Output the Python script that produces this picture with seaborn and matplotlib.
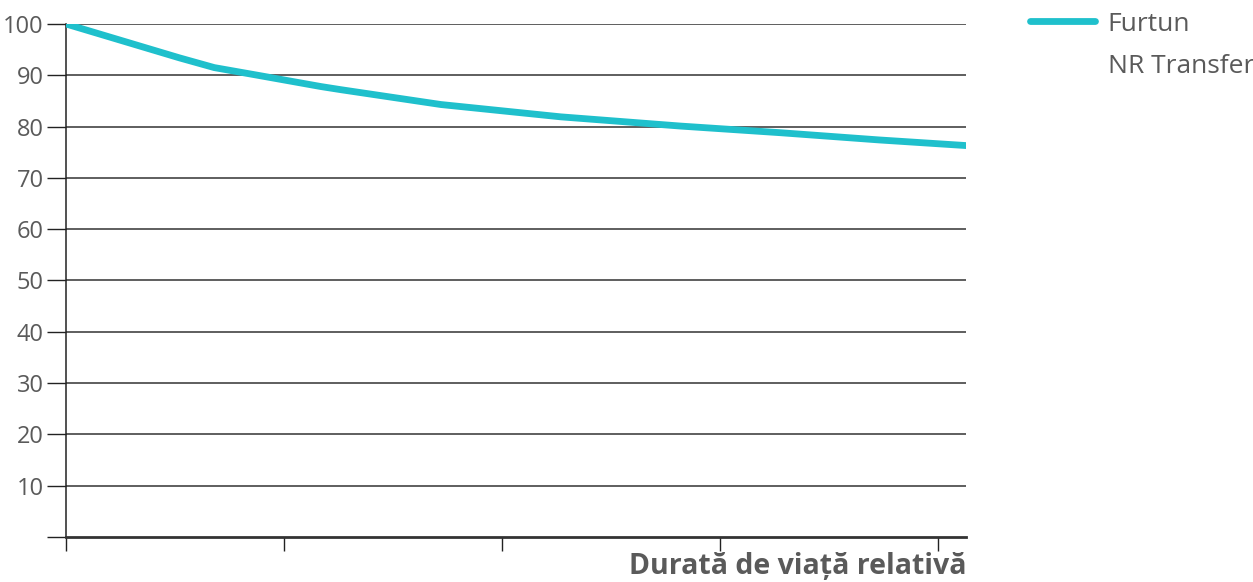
import pandas as pd
import numpy as np
import matplotlib
matplotlib.use("Agg")
import matplotlib.pyplot as plt
import seaborn as sns
from matplotlib.lines import Line2D

# values
rel_life = [0.0, 0.52, 0.68, 0.88, 1.17, 1.26, 1.72, 2.27, 2.82, 3.28, 3.73, 4.13]
furtun = [100.0, 93.4, 91.5, 90.0, 87.8, 87.2, 84.3, 81.9, 80.1, 78.8, 77.4, 76.3]
y_ticks = [0, 10, 20, 30, 40, 50, 60, 70, 80, 90, 100]
y_labels = [""] + [str(v) for v in y_ticks[1:]]
x_ticks = [0, 1, 2, 3, 4]
legend_labels = ["Furtun", "NR Transfer"]
x_label = "Durată de viață relativă"

df = pd.DataFrame({"x": rel_life, "y": furtun})

sns.set_style("white")
plt.rcParams["font.family"] = ["Open Sans", "DejaVu Sans"]

TEXT = "#5a5a5a"
LINE = "#1fc0cc"

fig = plt.figure(figsize=(12.53, 5.82), dpi=100)
ax = fig.add_axes([0.0527, 0.0773, 0.7183, 0.8815])

for v in y_ticks[1:]:
	ax.axhline(v, color="#333333", lw=1.1, zorder=1)

sns.lineplot(data=df, x="x", y="y", color=LINE, lw=4.9, ax=ax, zorder=3)

ax.set_xlim(0, 4.13)
ax.set_ylim(0, 100)
ax.set_yticks(y_ticks)
ax.set_yticklabels(y_labels)
ax.set_xticks(x_ticks)
ax.set_xticklabels([""] * len(x_ticks))

ax.tick_params(axis="y", left=True, direction="out", length=14, width=1,
	color="#222222", labelsize=17, labelcolor=TEXT, pad=2)
ax.tick_params(axis="x", bottom=True, direction="out", length=10, width=1,
	color="#222222")

for s in ["top", "right"]:
	ax.spines[s].set_visible(False)
ax.spines["left"].set_color("#222222")
ax.spines["left"].set_linewidth(1.1)
ax.spines["bottom"].set_color("#333333")
ax.spines["bottom"].set_linewidth(2)

ax.set_ylabel("")
ax.set_xlabel(x_label, fontsize=20.5, fontweight="bold", color=TEXT)
ax.xaxis.set_label_coords(1.0, -0.03)
ax.xaxis.label.set_horizontalalignment("right")
ax.xaxis.label.set_verticalalignment("top")

handles = [Line2D([], [], color=LINE, lw=4.9), Line2D([], [], color="none")]
leg = fig.legend(handles, legend_labels, loc="upper left",
	bbox_to_anchor=(0.822, 0.98), frameon=False, fontsize=19,
	borderpad=0, borderaxespad=0,
	handlelength=2.45, handletextpad=0.5, labelspacing=0.66)
for t in leg.get_texts():
	t.set_color(TEXT)

fig.savefig("out.png", dpi=100)
